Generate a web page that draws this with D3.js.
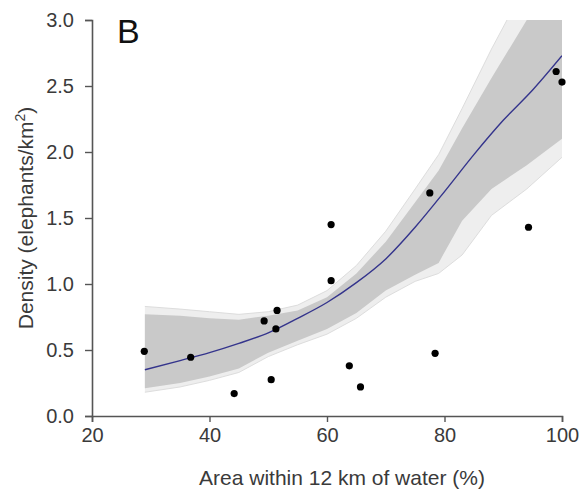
<!DOCTYPE html>
<html lang="en">

<head>
    <meta charset="UTF-8">
    <title>Elephant density vs water</title>
    <script src="https://cdn.jsdelivr.net/npm/d3@7"></script>
    <style>
        body {
            margin: 0;
            background: white;
        }

        text {
            font-family: 'Liberation Sans', Arial, sans-serif;
        }
    </style>
</head>

<body>
    <div id="chart"></div>

    <script>
        // Observed sites (x = % area within 12 km of water, y = density)
        const siteX = [28.9, 36.8, 44.2, 49.3, 51.5, 51.3, 50.5, 60.7, 60.7, 63.8, 65.7, 77.5, 78.4, 94.3, 99.0, 100.0];
        const siteY = [0.49, 0.445, 0.17, 0.72, 0.80, 0.66, 0.275, 1.45, 1.025, 0.38, 0.22, 1.69, 0.475, 1.43, 2.61, 2.53];

        // Fitted curve
        const fitX = [29, 35, 40, 45, 50, 55, 60, 65, 70, 75, 80, 85, 90, 95, 100];
        const fitY = [0.35, 0.42, 0.48, 0.55, 0.63, 0.74, 0.86, 1.01, 1.19, 1.43, 1.70, 1.98, 2.24, 2.47, 2.73];

        // Envelope of the bootstrap curves (dense part and faint outer lines)
        const bandX = [29, 35, 40, 45, 50, 55, 60, 65, 70, 75, 79, 83, 88, 94, 100];
        const bandLo = [0.21, 0.25, 0.30, 0.36, 0.48, 0.57, 0.66, 0.78, 0.95, 1.07, 1.16, 1.48, 1.72, 1.90, 2.10];
        const bandHi = [0.77, 0.76, 0.74, 0.73, 0.76, 0.80, 0.90, 1.08, 1.32, 1.62, 1.86, 2.18, 2.56, 3.00, 3.45];
        const faintLo = [0.18, 0.22, 0.27, 0.33, 0.45, 0.54, 0.62, 0.74, 0.90, 1.02, 1.08, 1.22, 1.52, 1.72, 1.96];
        const faintHi = [0.83, 0.81, 0.79, 0.77, 0.79, 0.84, 0.95, 1.14, 1.40, 1.72, 1.98, 2.33, 2.78, 3.28, 3.78];

        const xTicks = [20, 40, 60, 80, 100];
        const yTicks = [0.0, 0.5, 1.0, 1.5, 2.0, 2.5, 3.0];

        const width = 585, height = 493;
        const margin = { top: 20, right: 23, bottom: 77, left: 92 };

        const svg = d3.select("#chart").append("svg")
            .attr("width", width)
            .attr("height", height);

        const x = d3.scaleLinear().domain([20, 100]).range([margin.left, width - margin.right]);
        const y = d3.scaleLinear().domain([0, 3]).range([height - margin.bottom, margin.top]);

        svg.append("clipPath").attr("id", "plot-clip")
            .append("rect")
            .attr("x", x(20)).attr("y", y(3))
            .attr("width", x(100) - x(20)).attr("height", y(0) - y(3));

        const plot = svg.append("g").attr("clip-path", "url(#plot-clip)");

        // bootstrap band
        const faint = bandX.map((d, i) => ({ x: d, lo: faintLo[i], hi: faintHi[i] }));
        const dense = bandX.map((d, i) => ({ x: d, lo: bandLo[i], hi: bandHi[i] }));

        const area = d3.area()
            .x(d => x(d.x))
            .y0(d => y(d.lo))
            .y1(d => y(d.hi));

        plot.append("path").datum(faint)
            .attr("d", area)
            .attr("fill", "#eeeeee");

        // light strands along the outer edges
        ["lo", "hi"].forEach(k => {
            plot.append("path").datum(faint)
                .attr("d", d3.line().x(d => x(d.x)).y(d => y(d[k])))
                .attr("fill", "none")
                .attr("stroke", "#dddddd")
                .attr("stroke-width", 1);
        });

        plot.append("path").datum(dense)
            .attr("d", area)
            .attr("fill", "#c9c9c9");

        // fitted line
        const fit = fitX.map((d, i) => ({ x: d, y: fitY[i] }));
        plot.append("path").datum(fit)
            .attr("d", d3.line().x(d => x(d.x)).y(d => y(d.y)).curve(d3.curveMonotoneX))
            .attr("fill", "none")
            .attr("stroke", "#34348c")
            .attr("stroke-width", 1.4);

        // data points
        svg.append("g").selectAll("circle")
            .data(siteX.map((d, i) => ({ x: d, y: siteY[i] })))
            .enter().append("circle")
            .attr("cx", d => x(d.x))
            .attr("cy", d => y(d.y))
            .attr("r", 3.6)
            .attr("fill", "#000");

        // axes
        const xAxis = svg.append("g")
            .attr("transform", `translate(0,${y(0)})`)
            .call(d3.axisBottom(x).tickValues(xTicks).tickSize(6).tickPadding(6).tickFormat(d3.format("d")));
        const yAxis = svg.append("g")
            .attr("transform", `translate(${x(20)},0)`)
            .call(d3.axisLeft(y).tickValues(yTicks).tickSize(7).tickPadding(11).tickFormat(d3.format(".1f")));

        [xAxis, yAxis].forEach(g => {
            g.select(".domain").attr("stroke", "#555").attr("stroke-width", 1.6);
            g.selectAll(".tick line").attr("stroke", "#555").attr("stroke-width", 1.4);
            g.selectAll(".tick text")
                .attr("fill", "#3a3a3a")
                .style("font-size", "20px");
        });

        // axis titles
        svg.append("text")
            .attr("x", 342)
            .attr("y", 485)
            .attr("text-anchor", "middle")
            .attr("fill", "#3a3a3a")
            .style("font-size", "21px")
            .text("Area within 12 km of water (%)");

        const yTitle = svg.append("text")
            .attr("transform", "translate(33,218) rotate(-90)")
            .attr("text-anchor", "middle")
            .attr("fill", "#3a3a3a")
            .style("font-size", "21px");
        yTitle.append("tspan").text("Density (elephants/km");
        yTitle.append("tspan").attr("dy", -8).style("font-size", "14px").text("2");
        yTitle.append("tspan").attr("dy", 8).text(")");

        // panel letter
        svg.append("text")
            .attr("x", 117)
            .attr("y", 43)
            .attr("fill", "#111")
            .style("font-size", "34px")
            .text("B");
    </script>
</body>

</html>
